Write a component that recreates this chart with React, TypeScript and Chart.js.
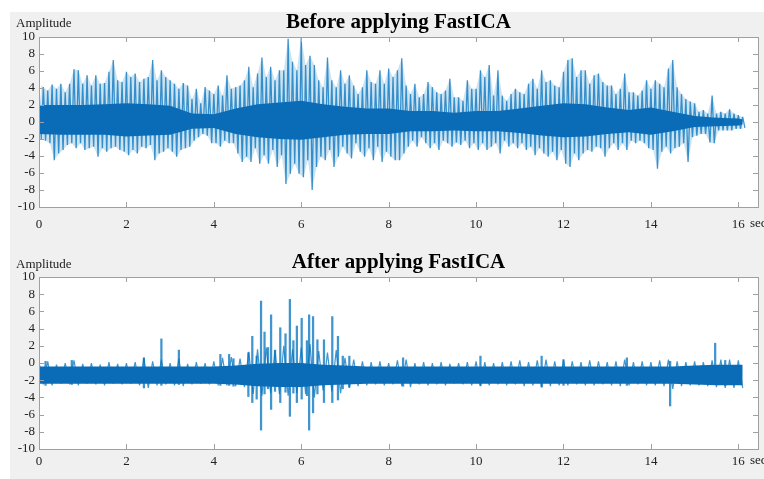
import React, { useEffect, useRef } from "react";
import { Chart, registerables } from "chart.js";

Chart.register(...registerables);

// ---------- axes ----------
const X_TICKS = [0, 2, 4, 6, 8, 10, 12, 14, 16];
const Y_TICKS = [-10, -8, -6, -4, -2, 0, 2, 4, 6, 8, 10];
const X_MAX = 16.45;

// ---------- "Before applying FastICA" ----------
// max / min of the signal in each 0.1 s bin, starting at t = 0
const PEAK_STEP = 0.1;
const BEFORE_PEAK_HI = [
  4.5, 4.1, 3.7, 4.4, 3.9, 4.5, 3.5, 4.5, 6.2, 6.1,
  4.5, 5.5, 4.3, 5.5, 4.5, 4.6, 5.9, 7.3, 4.9, 4.7,
  5.9, 5.3, 5.7, 4.7, 5.1, 5.3, 7.3, 4.9, 6.1, 5.3,
  4.9, 4.5, 3.9, 4.6, 4.3, 2.7, 3.9, 2.2, 4.1, 3.7,
  3.3, 4.3, 3.1, 5.5, 3.9, 4.1, 4.3, 4.9, 6.5, 4.1,
  5.7, 7.6, 5.3, 6.5, 4.9, 6.1, 6.1, 9.8, 7.1, 6.1,
  10.0, 6.7, 7.8, 6.7, 4.9, 4.1, 7.6, 4.9, 4.1, 6.1,
  4.5, 5.5, 4.3, 3.3, 4.1, 6.1, 4.7, 4.5, 6.1, 4.5,
  6.3, 5.3, 6.1, 7.5, 4.3, 3.3, 4.5, 2.9, 3.3, 4.7,
  4.1, 3.5, 3.3, 3.7, 5.1, 2.9, 2.9, 2.5, 4.9, 3.9,
  3.9, 6.1, 5.3, 6.7, 3.1, 6.1, 3.1, 2.5, 3.3, 3.9,
  3.5, 3.3, 4.5, 5.1, 3.9, 6.1, 4.7, 4.9, 4.3, 4.1,
  5.9, 7.3, 7.5, 5.3, 6.1, 6.1, 4.5, 5.5, 5.7, 4.7,
  4.3, 4.3, 3.3, 3.9, 5.7, 3.5, 3.5, 3.1, 3.7, 4.9,
  3.9, 4.9, 4.5, 4.1, 6.3, 7.3, 4.1, 3.3, 2.7, 2.4,
  2.2, 1.2, 1.4, 1.0, 3.1, 1.0, 1.2, 1.0, 1.5, 1.0,
  0.8, 0.6,
];
const BEFORE_PEAK_LO = [
  -2.1, -2.2, -2.5, -4.5, -3.7, -3.3, -2.7, -2.5, -3.1, -2.5,
  -3.3, -3.1, -2.9, -4.1, -3.1, -3.5, -3.1, -2.9, -3.3, -3.5,
  -3.9, -3.3, -3.7, -2.9, -3.1, -2.7, -4.5, -3.7, -3.5, -3.1,
  -3.5, -4.1, -3.3, -3.1, -2.9, -2.2, -1.8, -1.4, -1.6, -2.5,
  -2.5, -2.9, -2.2, -2.5, -2.5, -3.7, -4.7, -4.1, -4.7, -3.1,
  -4.9, -3.9, -4.9, -3.3, -5.3, -3.9, -7.3, -6.1, -4.9, -6.1,
  -6.5, -4.5, -8.0, -5.3, -4.1, -4.5, -3.3, -5.3, -4.1, -2.9,
  -3.7, -4.3, -2.5, -3.5, -4.1, -3.1, -4.5, -2.9, -4.7, -3.5,
  -4.1, -4.5, -4.5, -3.7, -2.9, -2.2, -2.9, -1.8, -2.5, -3.1,
  -2.5, -3.3, -2.2, -2.5, -2.9, -2.4, -2.7, -2.2, -3.1, -2.5,
  -3.3, -2.5, -3.3, -2.9, -2.5, -3.7, -2.2, -2.9, -2.5, -3.1,
  -2.5, -3.3, -2.9, -3.9, -3.1, -3.7, -4.1, -3.5, -4.5, -3.3,
  -4.9, -5.3, -3.7, -4.5, -3.7, -3.3, -3.5, -2.9, -3.1, -4.1,
  -3.1, -2.5, -3.3, -2.5, -3.3, -2.2, -2.5, -2.2, -2.5, -3.1,
  -3.3, -5.5, -3.5, -2.9, -3.7, -3.1, -2.9, -2.5, -4.7, -1.8,
  -1.6, -1.4, -1.4, -2.4, -2.5, -1.0, -1.0, -1.0, -1.0, -0.8,
  -0.8, -0.7,
];
// dense (dark) core of the signal
const CORE_T = [
  0, 0.5, 1, 1.5, 2, 2.5, 3, 3.5, 4, 4.5, 5, 5.5, 6, 6.5, 7, 7.5, 8,
  8.5, 9, 9.5, 10, 10.5, 11, 11.5, 12, 12.5, 13, 13.5, 14, 14.5, 15, 15.5, 16, 16.1,
];
const BEFORE_CORE_HI = [
  2.0, 2.0, 2.0, 2.1, 2.2, 2.1, 1.9, 1.0, 0.9, 1.6, 2.1, 2.3, 2.5, 2.1, 1.8, 1.6, 1.6,
  1.3, 1.3, 1.1, 1.3, 1.3, 1.6, 1.9, 2.2, 2.1, 1.7, 1.4, 1.7, 1.2, 0.7, 0.5, 0.4, 0.3,
];
const BEFORE_CORE_LO = [
  -1.4, -1.5, -1.5, -1.5, -1.7, -1.6, -1.5, -0.8, -0.7, -1.4, -1.8, -2.0, -2.1, -1.8, -1.5, -1.4, -1.4,
  -1.1, -1.1, -1.0, -1.1, -1.1, -1.3, -1.6, -1.8, -1.7, -1.4, -1.2, -1.5, -1.1, -0.6, -0.5, -0.4, -0.3,
];

// ---------- "After applying FastICA" ----------
// max / min in each 0.2 s bin of the low-level noise
const FUZZ_STEP = 0.2;
const AFTER_FUZZ_HI = [
  0.1, 0.2, -0.2, 0.0, 0.3, -0.1, 0.0, -0.2, 0.1, -0.1,
  0.0, 0.1, 0.6, 0.2, 0.4, 0.0, 0.5, -0.1, 0.1, 0.0,
  0.2, 0.6, 0.7, 0.5, 1.3, 1.6, 1.8, 1.5, 2.0, 1.6,
  1.8, 2.2, 1.4, 1.2, 1.5, 0.6, 0.4, 0.2, 0.1, 0.2,
  0.0, 0.3, 0.4, 0.0, 0.1, 0.0, 0.1, -0.1, 0.0, 0.1,
  0.2, 0.1, 0.0, 0.1, 0.2, 0.3, 0.1, 0.3, 0.4, 0.2,
  0.3, 0.2, 0.1, 0.3, 0.2, 0.1, 0.2, 0.4, 0.1, 0.2,
  0.1, 0.3, 0.4, 0.2, 0.1, 0.2, 0.1, 0.3, 0.4, 0.4,
  0.3,
];
const AFTER_FUZZ_LO = [
  -2.5, -2.6, -2.4, -2.5, -2.6, -2.4, -2.5, -2.6, -2.4, -2.5,
  -2.4, -2.6, -2.9, -2.6, -2.5, -2.6, -2.7, -2.5, -2.4, -2.5,
  -2.6, -2.6, -2.7, -2.8, -3.6, -3.8, -3.5, -3.6, -3.8, -3.5,
  -3.6, -4.0, -3.2, -3.3, -3.5, -2.9, -2.7, -2.6, -2.5, -2.6,
  -2.5, -2.7, -2.8, -2.5, -2.6, -2.5, -2.6, -2.4, -2.5, -2.6,
  -2.7, -2.6, -2.5, -2.6, -2.5, -2.7, -2.6, -2.8, -2.7, -2.6,
  -2.6, -2.5, -2.6, -2.6, -2.5, -2.6, -2.7, -2.6, -2.5, -2.6,
  -2.6, -2.7, -3.0, -2.7, -2.6, -2.6, -2.7, -2.8, -2.9, -2.9,
  -2.9,
];
const AFTER_CORE_HI = [
  -0.4, -0.4, -0.4, -0.4, -0.4, -0.4, -0.4, -0.4, -0.4, -0.3, -0.1, 0.0, 0.0, -0.2, -0.3, -0.4, -0.4,
  -0.4, -0.4, -0.4, -0.4, -0.4, -0.4, -0.4, -0.4, -0.4, -0.4, -0.4, -0.4, -0.4, -0.3, -0.2, -0.2, -0.2,
];
const AFTER_CORE_LO = [
  -2.4, -2.4, -2.4, -2.4, -2.4, -2.4, -2.4, -2.4, -2.4, -2.5, -2.7, -2.8, -2.8, -2.6, -2.5, -2.4, -2.4,
  -2.4, -2.4, -2.4, -2.4, -2.4, -2.4, -2.4, -2.4, -2.4, -2.4, -2.4, -2.4, -2.4, -2.5, -2.6, -2.6, -2.6,
];
// isolated spikes
const AFTER_SPIKE_T = [
  0.15, 0.75, 2.4, 2.8, 3.2, 4.15, 4.35, 4.45, 4.79, 4.88, 4.98, 5.08, 5.16, 5.24, 5.31, 5.4,
  5.52, 5.64, 5.74, 5.82, 5.9, 6.01, 6.13, 6.18, 6.27, 6.37, 6.52, 6.71, 6.84, 6.95, 7.1,
  8.33, 10.1, 11.5, 12.0, 13.45, 14.44, 15.47, 15.7,
];
const AFTER_SPIKE_HI = [
  0.2, 0.3, 0.6, 2.8, 1.5, 1.0, 1.0, 0.5, 1.2, 3.1, 0.8, 7.2, 3.6, 1.8, 5.6, 1.5,
  4.1, 3.4, 7.4, 2.6, 4.3, 5.2, 2.6, 5.6, 5.4, 2.7, 2.7, 5.4, 3.1, 0.8, 0.8,
  0.6, 0.8, 0.8, 0.4, 0.6, 0.2, 2.3, 0.3,
];
const AFTER_SPIKE_LO = [
  -2.6, -2.5, -2.9, -2.6, -2.5, -2.6, -2.6, -2.7, -3.9, -4.6, -4.2, -7.8, -3.6, -3.0, -5.4, -3.3,
  -4.6, -3.4, -6.2, -3.5, -4.6, -4.2, -3.8, -7.8, -5.8, -3.6, -4.6, -4.6, -4.3, -3.0, -2.8,
  -2.7, -2.6, -2.8, -2.6, -2.6, -5.0, -2.5, -2.6,
];

// ---------- styles ----------
const SERIF = "'Liberation Serif', 'Times New Roman', serif";
const DARK = "#0a6cb6";
const LINE = "rgba(0, 114, 189, 0.75)";
const HAZE = "rgba(0, 114, 189, 0.2)";
const FRAME = "#a0a0a0";

const framePlugin = {
  id: "frame",
  beforeDraw(chart: any) {
    const { ctx, chartArea: a } = chart;
    ctx.save();
    ctx.fillStyle = "#ffffff";
    ctx.fillRect(a.left, a.top, a.right - a.left, a.bottom - a.top);
    ctx.restore();
  },
  afterDraw(chart: any, _args: any, opts: any) {
    const { ctx, chartArea: a, scales } = chart;
    const xs = scales.x;
    const ys = scales.y;
    ctx.save();
    ctx.strokeStyle = FRAME;
    ctx.lineWidth = 1;
    ctx.strokeRect(Math.round(a.left) + 0.5, Math.round(a.top) + 0.5, Math.round(a.right - a.left), Math.round(a.bottom - a.top));
    ctx.beginPath();
    const L = 5;
    X_TICKS.forEach((v) => {
      const px = Math.round(xs.getPixelForValue(v)) + 0.5;
      ctx.moveTo(px, a.bottom);
      ctx.lineTo(px, a.bottom - L);
      ctx.moveTo(px, a.top);
      ctx.lineTo(px, a.top + L);
    });
    Y_TICKS.forEach((v) => {
      const py = Math.round(ys.getPixelForValue(v)) + 0.5;
      ctx.moveTo(a.left, py);
      ctx.lineTo(a.left + L, py);
      ctx.moveTo(a.right, py);
      ctx.lineTo(a.right - L, py);
    });
    ctx.stroke();
    ctx.fillStyle = "#222";
    ctx.font = `13px ${SERIF}`;
    ctx.textBaseline = "middle";
    ctx.textAlign = "left";
    ctx.fillText("Amplitude", opts.ampX, opts.ampY);
    ctx.fillText("sec", a.right - 8, opts.secY);
    ctx.restore();
  },
};

// min/max per bin drawn as a continuous trace: max at the bin start, min half a bin later
function trace(hi: number[], lo: number[], step: number) {
  const pts: { x: number; y: number }[] = [];
  hi.forEach((h, i) => {
    pts.push({ x: i * step, y: h });
    pts.push({ x: i * step + step / 2, y: lo[i] });
  });
  return pts;
}

function buildConfig(kind: "before" | "after", title: string, titleTop: number, xHeight: number, xPad: number, secY: number, ampY: number) {
  const datasets: any[] = [];
  const area = (pts: any[], fill: any, color: string, order: number) => ({
    type: "line",
    data: pts,
    borderWidth: 0,
    borderColor: "rgba(0,0,0,0)",
    pointRadius: 0,
    tension: 0,
    fill,
    backgroundColor: color,
    order,
  });
  const xy = (T: number[], Y: number[]) => T.map((t, i) => ({ x: t, y: Y[i] }));
  const signal = (pts: any[], width: number, color: string, order: number) => ({
    type: "line",
    data: pts,
    borderWidth: width,
    borderColor: color,
    borderJoinStyle: "bevel",
    pointRadius: 0,
    tension: 0,
    fill: false,
    order,
  });
  if (kind === "before") {
    datasets.push(area(xy(CORE_T, BEFORE_CORE_HI), "+1", DARK, 0));
    datasets.push(area(xy(CORE_T, BEFORE_CORE_LO), false, DARK, 0));
    datasets.push(signal(trace(BEFORE_PEAK_HI, BEFORE_PEAK_LO, PEAK_STEP), 1.3, LINE, 2));
    datasets.push(area(BEFORE_PEAK_HI.map((h, i) => ({ x: i * PEAK_STEP, y: h })), "+1", HAZE, 3));
    datasets.push(area(BEFORE_PEAK_LO.map((l, i) => ({ x: i * PEAK_STEP + PEAK_STEP / 2, y: l })), false, HAZE, 3));
  } else {
    datasets.push(area(xy(CORE_T, AFTER_CORE_HI), "+1", DARK, 0));
    datasets.push(area(xy(CORE_T, AFTER_CORE_LO), false, DARK, 0));
    datasets.push(signal(trace(AFTER_FUZZ_HI, AFTER_FUZZ_LO, FUZZ_STEP), 1.2, LINE, 1));
    datasets.push({
      type: "bar",
      data: AFTER_SPIKE_T.map((t, i) => ({ x: t, y: [AFTER_SPIKE_LO[i], AFTER_SPIKE_HI[i]] })),
      backgroundColor: LINE,
      barThickness: 1.6,
      grouped: false,
      order: 2,
    });
  }
  const tickFont = { family: SERIF, size: 13 };
  return {
    type: "bar",
    data: { datasets },
    plugins: [framePlugin],
    options: {
      animation: false,
      responsive: false,
      maintainAspectRatio: false,
      layout: { padding: { left: 0, right: 6, top: 0, bottom: 0 } },
      plugins: {
        legend: { display: false },
        tooltip: { enabled: false },
        title: {
          display: true,
          fullSize: false,
          text: title,
          color: "#000",
          font: { family: SERIF, size: 21, weight: "bold", lineHeight: 1 },
          padding: { top: titleTop, bottom: 4 },
        },
        frame: { ampX: 6, ampY: ampY, secY: secY },
      },
      scales: {
        x: {
          type: "linear",
          min: 0,
          max: X_MAX,
          offset: false,
          grid: { display: false, drawTicks: false },
          border: { display: false },
          ticks: { font: tickFont, color: "#222", padding: xPad, maxRotation: 0, autoSkip: false },
          afterBuildTicks: (s: any) => {
            s.ticks = X_TICKS.map((v) => ({ value: v }));
          },
          afterFit: (s: any) => {
            s.height = xHeight;
          },
        },
        y: {
          type: "linear",
          min: -10,
          max: 10,
          grid: { display: false, drawTicks: false },
          border: { display: false },
          ticks: { font: tickFont, color: "#222", padding: 4, autoSkip: false },
          afterBuildTicks: (s: any) => {
            s.ticks = Y_TICKS.map((v) => ({ value: v }));
          },
          afterFit: (s: any) => {
            s.width = 29;
          },
        },
      },
    },
  };
}

function Panel(props: { kind: "before" | "after"; title: string; height: number; titleTop: number; xHeight: number; xPad: number; secY: number; ampY: number }) {
  const ref = useRef<HTMLCanvasElement | null>(null);
  useEffect(() => {
    if (!ref.current) return;
    const chart = new Chart(
      ref.current,
      buildConfig(props.kind, props.title, props.titleTop, props.xHeight, props.xPad, props.secY, props.ampY) as any
    );
    return () => chart.destroy();
  }, []);
  return <canvas ref={ref} width={754} height={props.height} style={{ display: "block", width: 754, height: props.height }} />;
}

export default function App() {
  return (
    <div
      style={{
        position: "absolute",
        left: 10,
        top: 12,
        width: 754,
        height: 467,
        background: "#f0f0f0",
        overflow: "hidden",
      }}
    >
      <Panel kind="before" title="Before applying FastICA" height={228} titleTop={0} xHeight={33} xPad={10} secY={212} ampY={12} />
      <Panel kind="after" title="After applying FastICA" height={239} titleTop={12} xHeight={30} xPad={5} secY={221} ampY={25} />
    </div>
  );
}
